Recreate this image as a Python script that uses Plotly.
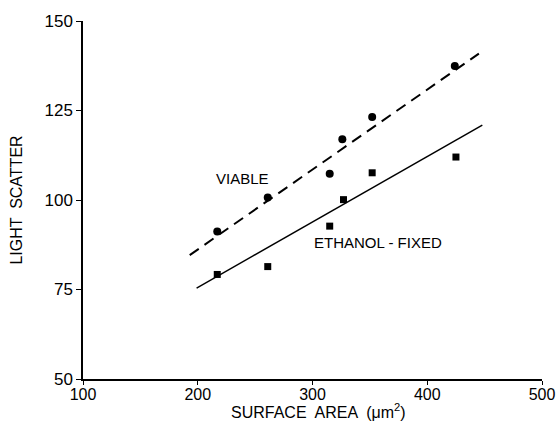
import plotly.graph_objects as go

# Surface area (um^2) and light scatter for viable cells
viable_area = [217, 261, 315, 326, 352, 424]
viable_scatter = [91.2, 100.7, 107.3, 117.0, 123.2, 137.4]

# Ethanol-fixed cells
fixed_area = [217, 261, 315, 327, 352, 425]
fixed_scatter = [79.2, 81.4, 92.7, 100.1, 107.6, 112.0]

# Regression line endpoints
viable_fit_x = [193, 445]
viable_fit_y = [84.6, 140.9]
fixed_fit_x = [199, 448]
fixed_fit_y = [75.4, 120.9]

x_ticks = [100, 200, 300, 400, 500]
y_ticks = [50, 75, 100, 125, 150]

FONT = "Liberation Sans"

fig = go.Figure()
fig.add_trace(go.Scatter(x=viable_fit_x, y=viable_fit_y, mode="lines",
                         line=dict(color="black", width=2, dash="11px,7px"),
                         hoverinfo="skip"))
fig.add_trace(go.Scatter(x=fixed_fit_x, y=fixed_fit_y, mode="lines",
                         line=dict(color="black", width=1.5),
                         hoverinfo="skip"))
fig.add_trace(go.Scatter(x=viable_area, y=viable_scatter, mode="markers",
                         marker=dict(symbol="circle", size=8, color="black")))
fig.add_trace(go.Scatter(x=fixed_area, y=fixed_scatter, mode="markers",
                         marker=dict(symbol="square", size=7, color="black")))

fig.add_annotation(x=239, y=106.1, text="VIABLE", showarrow=False,
                   font=dict(family=FONT, size=15, color="black"))
fig.add_annotation(x=357.5, y=88, text="ETHANOL - FIXED", showarrow=False,
                   font=dict(family=FONT, size=15, color="black"))

# x-axis title placed just below the tick labels
fig.add_annotation(xref="paper", yref="paper", x=0.512, y=-0.09,
                   xanchor="center", yanchor="middle", showarrow=False,
                   text="SURFACE  AREA  (μm<sup>2</sup>)",
                   font=dict(family=FONT, size=16, color="black"))

fig.update_layout(
    width=560, height=434,
    margin=dict(l=83, r=18, t=21, b=55),
    paper_bgcolor="white", plot_bgcolor="white",
    showlegend=False,
    font=dict(family=FONT, color="black"),
)
fig.update_xaxes(range=[100, 500], tickvals=x_ticks, ticktext=[str(v) for v in x_ticks],
                 showgrid=False, zeroline=False, showline=True, linecolor="black",
                 linewidth=1.5, ticks="outside", ticklen=4, tickcolor="black",
                 tickfont=dict(family=FONT, size=16), ticklabelstandoff=-4,
                 automargin=False)
fig.update_yaxes(range=[50, 150], tickvals=y_ticks, ticktext=[str(v) for v in y_ticks],
                 showgrid=False, zeroline=False, showline=True, linecolor="black",
                 linewidth=1.5, ticks="outside", ticklen=5, tickcolor="black",
                 tickfont=dict(family=FONT, size=17), automargin=False,
                 title=dict(text="LIGHT  SCATTER",
                            font=dict(family=FONT, size=16), standoff=18))

fig.write_html("out.html")
